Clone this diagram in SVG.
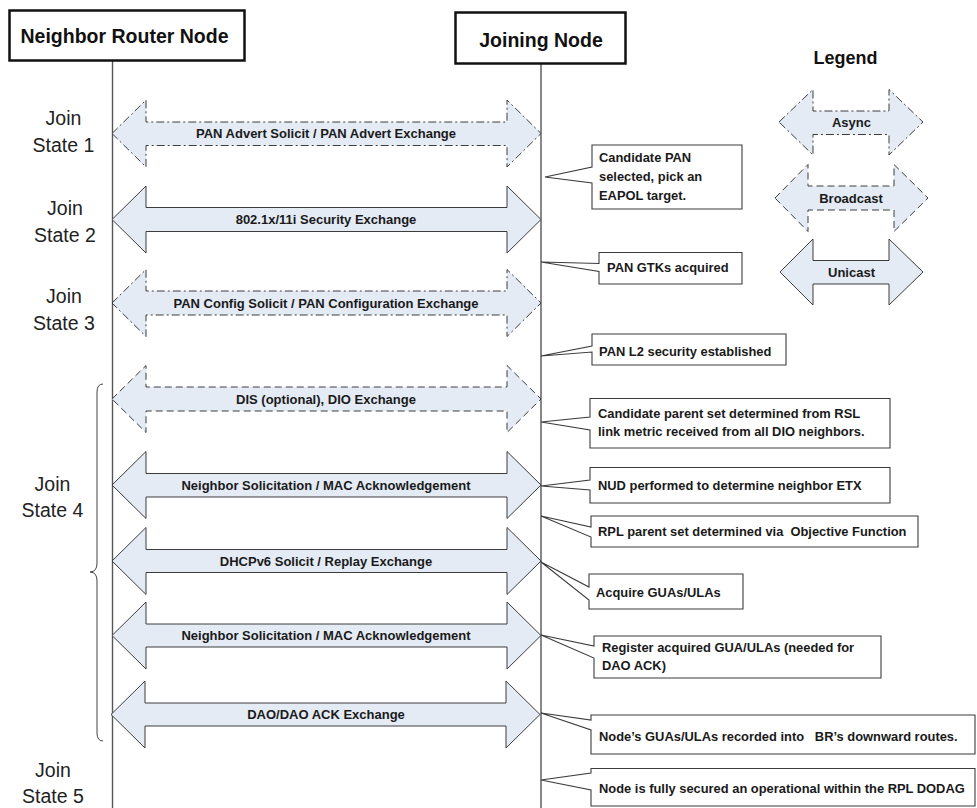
<svg xmlns="http://www.w3.org/2000/svg" width="977" height="808" viewBox="0 0 977 808">
<style>
.bg{fill:#ffffff}
.hdr{fill:#ffffff;stroke:#111;stroke-width:2.5}
.hdrt{font-family:"Liberation Sans",Arial,sans-serif;font-weight:bold;font-size:19.5px;fill:#111;text-anchor:middle}
.life{stroke:#555;stroke-width:1.4;fill:none}
.arr{fill:#e4ebf5;stroke:#3c3c3c;stroke-width:1}
.async{stroke-dasharray:8 3 2 3}
.bcast{stroke-dasharray:7 4}
.al{font-family:"Liberation Sans",Arial,sans-serif;font-weight:bold;font-size:13px;fill:#1a1a1a;text-anchor:middle}
.co{fill:#ffffff;stroke:#3c3c3c;stroke-width:1.1}
.ct{font-family:"Liberation Sans",Arial,sans-serif;font-weight:bold;font-size:12.9px;fill:#1a1a1a;white-space:pre}
.st{font-family:"Liberation Sans",Arial,sans-serif;font-size:19.5px;fill:#222;text-anchor:middle}
.lg{font-family:"Liberation Sans",Arial,sans-serif;font-weight:bold;font-size:18px;fill:#111;text-anchor:middle}
.brace{fill:none;stroke:#444;stroke-width:1}
</style>
<rect class="bg" x="0" y="0" width="977" height="808"/>

<g id="lifelines">
<line class="life" x1="112.5" y1="61" x2="112.5" y2="808"/>
<line class="life" x1="541" y1="63" x2="541" y2="808"/>
</g>

<g id="node-neighbor-router">
<rect class="hdr" x="9.5" y="10.5" width="235" height="50"/>
<text class="hdrt" x="124.5" y="43">Neighbor Router Node</text>
</g>
<g id="node-joining">
<rect class="hdr" x="455.5" y="12.5" width="170" height="51"/>
<text class="hdrt" x="541" y="46.5">Joining Node</text>
</g>

<g id="join-states">
<text class="st" x="63.5" y="125">Join</text>
<text class="st" x="63.5" y="152">State 1</text>
<text class="st" x="65" y="215">Join</text>
<text class="st" x="65" y="242">State 2</text>
<text class="st" x="64" y="303">Join</text>
<text class="st" x="64" y="329.5">State 3</text>
<text class="st" x="52.5" y="490.5">Join</text>
<text class="st" x="52.5" y="517">State 4</text>
<text class="st" x="53" y="777">Join</text>
<text class="st" x="53" y="803">State 5</text>
<path class="brace" d="M103,384 Q97,384 97,392 L97,563 Q97,572 90,572 Q97,572 97,581 L97,733 Q97,741 103,741"/>
</g>

<g id="connectors">
<g id="msg-pan-advert">
<path class="arr async" d="M112,133.5 L146,100 L146,122 L507,122 L507,100 L541,133.5 L507,167 L507,145.5 L146,145.5 L146,167 Z"/>
<text class="al" x="326" y="138">PAN Advert Solicit / PAN Advert Exchange</text>
</g>
<g id="msg-8021x">
<path class="arr" d="M112,219.5 L146,186 L146,207.5 L507,207.5 L507,186 L541,219.5 L507,253 L507,231.5 L146,231.5 L146,253 Z"/>
<text class="al" x="326" y="224">802.1x/11i Security Exchange</text>
</g>
<g id="msg-pan-config">
<path class="arr async" d="M112,303 L146,269.5 L146,291 L507,291 L507,269.5 L541,303 L507,336.5 L507,315 L146,315 L146,336.5 Z"/>
<text class="al" x="326" y="307.5">PAN Config Solicit / PAN Configuration Exchange</text>
</g>
<g id="msg-dis-dio">
<path class="arr bcast" d="M112,399 L146,365.5 L146,387 L507,387 L507,365.5 L541,399 L507,432.5 L507,411 L146,411 L146,432.5 Z"/>
<text class="al" x="326" y="403.5">DIS (optional), DIO Exchange</text>
</g>
<g id="msg-ns-1">
<path class="arr" d="M112,485 L146,451.5 L146,473.5 L507,473.5 L507,451.5 L541,485 L507,518.5 L507,497 L146,497 L146,518.5 Z"/>
<text class="al" x="326" y="489.5">Neighbor Solicitation / MAC Acknowledgement</text>
</g>
<g id="msg-dhcpv6">
<path class="arr" d="M112,561 L146,527.5 L146,549.5 L507,549.5 L507,527.5 L541,561 L507,594.5 L507,572.5 L146,572.5 L146,594.5 Z"/>
<text class="al" x="326" y="565.5">DHCPv6 Solicit / Replay Exchange</text>
</g>
<g id="msg-ns-2">
<path class="arr" d="M112,635.5 L146,602 L146,624 L507,624 L507,602 L541,635.5 L507,669 L507,647 L146,647 L146,669 Z"/>
<text class="al" x="326" y="640">Neighbor Solicitation / MAC Acknowledgement</text>
</g>
<g id="msg-dao">
<path class="arr" d="M111,714.5 L145,681 L145,703 L506,703 L506,681 L540,714.5 L506,748 L506,726 L145,726 L145,748 Z"/>
<text class="al" x="326" y="719">DAO/DAO ACK Exchange</text>
</g>
</g>

<g id="callout-candidate-pan">
<path class="co" d="M592,145 H742 V209 H592 V183 L545,177 L592,167 Z"/>
<text class="ct" x="599" y="162">Candidate PAN</text>
<text class="ct" x="599" y="181">selected, pick an</text>
<text class="ct" x="599" y="199.5">EAPOL target.</text>
</g>
<g id="callout-gtks">
<path class="co" d="M599,252.5 H742 V284 H599 V271.5 L541,262 L599,263.5 Z"/>
<text class="ct" x="607" y="272">PAN GTKs acquired</text>
</g>
<g id="callout-l2">
<path class="co" d="M592,334 H786 V365 H592 V352 L541,356 L592,346 Z"/>
<text class="ct" x="599" y="356">PAN L2 security established</text>
</g>
<g id="callout-candidate-parent">
<path class="co" d="M590,398.5 H890 V448 H590 V430 L541,422 L590,417 Z"/>
<text class="ct" x="598" y="418">Candidate parent set determined from RSL</text>
<text class="ct" x="598" y="436">link metric received from all DIO neighbors.</text>
</g>
<g id="callout-nud">
<path class="co" d="M590,467.5 H890 V503 H590 V490 L541,486 L590,480 Z"/>
<text class="ct" x="598" y="489.5">NUD performed to determine neighbor ETX</text>
</g>
<g id="callout-rpl">
<path class="co" d="M591,516 H918 V547 H591 V537 L541,516 L591,527 Z"/>
<text class="ct" x="598" y="536">RPL parent set determined via  Objective Function</text>
</g>
<g id="callout-acquire">
<path class="co" d="M589,574 H743 V609 H589 V600 L541,562 L589,587 Z"/>
<text class="ct" x="596" y="597">Acquire GUAs/ULAs</text>
</g>
<g id="callout-register">
<path class="co" d="M594,636 H881 V678 H594 V658 L541,635 L594,646 Z"/>
<text class="ct" x="602" y="652">Register acquired GUA/ULAs (needed for</text>
<text class="ct" x="602" y="669.5">DAO ACK)</text>
</g>
<g id="callout-recorded">
<path class="co" d="M591,715 H975 V754 H591 V730 L541,713 L591,720 Z"/>
<text class="ct" x="599" y="740.5">Node’s GUAs/ULAs recorded into   BR’s downward routes.</text>
</g>
<g id="callout-secured">
<path class="co" d="M591,768.5 H975 V806 H591 V790 L541,780 L591,773 Z"/>
<text class="ct" x="599" y="792.5">Node is fully secured an operational within the RPL DODAG</text>
</g>

<g id="legend">
<text class="lg" x="845.5" y="63.5">Legend</text>
<g id="legend-async">
<path class="arr async" d="M779,122 L813,89.5 L813,111 L889,111 L889,89.5 L923,122 L889,155 L889,134.5 L813,134.5 L813,155 Z"/>
<text class="al" x="851.5" y="126.5">Async</text>
</g>
<g id="legend-broadcast">
<path class="arr bcast" d="M775,198 L808,164.5 L808,186 L894,186 L894,164.5 L928,198 L894,231.5 L894,210 L808,210 L808,231.5 Z"/>
<text class="al" x="851" y="202.5">Broadcast</text>
</g>
<g id="legend-unicast">
<path class="arr" d="M780,272 L813,239 L813,260.5 L889,260.5 L889,239 L923,272 L889,305 L889,284 L813,284 L813,305 Z"/>
<text class="al" x="851.5" y="276.5">Unicast</text>
</g>
</g>
</svg>
